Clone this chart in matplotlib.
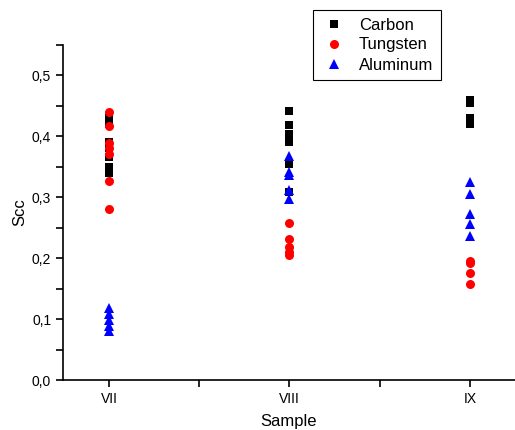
import matplotlib.pyplot as plt
from matplotlib.ticker import FuncFormatter, MultipleLocator, FixedLocator

plt.rcParams['font.family'] = ['Liberation Sans', 'DejaVu Sans']

samples = ["VII", "VIII", "IX"]

# Scc values per sample
carbon = {
    "VII": [0.43, 0.42, 0.39, 0.38, 0.365, 0.35, 0.345, 0.34],
    "VIII": [0.441, 0.418, 0.404, 0.391, 0.354, 0.309],
    "IX": [0.46, 0.454, 0.43, 0.42],
}
tungsten = {
    "VII": [0.44, 0.417, 0.388, 0.38, 0.37, 0.327, 0.28],
    "VIII": [0.258, 0.231, 0.218, 0.21, 0.205],
    "IX": [0.196, 0.192, 0.175, 0.157],
}
aluminum = {
    "VII": [0.118, 0.108, 0.098, 0.088, 0.08],
    "VIII": [0.367, 0.342, 0.336, 0.311, 0.297],
    "IX": [0.324, 0.305, 0.273, 0.256, 0.236],
}

fig = plt.figure(figsize=(5.15, 4.3), dpi=100)
ax = fig.add_axes([63 / 515, 50 / 430, 1 - 63 / 515, 335.3 / 430])

series = [
    ("Carbon", carbon, "s", "black", 6),
    ("Tungsten", tungsten, "o", "red", 6.5),
    ("Aluminum", aluminum, "^", "blue", 7),
]
for name, data, mk, col, ms in series:
    xs, ys = [], []
    for i, s in enumerate(samples):
        xs += [i + 1] * len(data[s])
        ys += data[s]
    ax.plot(xs, ys, linestyle="none", marker=mk, color=col, markersize=ms,
            markeredgewidth=0, label=name)

ax.set_xlim(0.745, 3.25)
ax.set_ylim(0, 0.55)
ax.set_xticks([1, 2, 3])
ax.set_xticklabels(samples)
ax.xaxis.set_minor_locator(FixedLocator([1.5, 2.5]))
ax.yaxis.set_major_locator(MultipleLocator(0.1))
ax.yaxis.set_minor_locator(MultipleLocator(0.05))
ax.yaxis.set_major_formatter(FuncFormatter(lambda v, p: f"{v:.1f}".replace(".", ",")))

ax.spines["top"].set_visible(False)
ax.spines["right"].set_visible(False)
ax.spines["left"].set_linewidth(1.2)
ax.spines["bottom"].set_linewidth(1.2)
ax.tick_params(which="major", direction="out", length=5, width=1.2, labelsize=10)
ax.tick_params(which="minor", direction="out", length=5, width=1.2)

ax.set_xlabel("Sample", fontsize=12, labelpad=6)
ax.set_ylabel("Scc", fontsize=12, labelpad=3)

leg = ax.legend(loc="upper left", bbox_to_anchor=(313 / 515, 1 - 10 / 430),
                bbox_transform=fig.transFigure, borderaxespad=0,
                fancybox=False, framealpha=1, edgecolor="black", fontsize=12,
                handletextpad=0.7, borderpad=0.45, labelspacing=0.3,
                handlelength=1.6)
leg.get_frame().set_linewidth(0.8)

fig.savefig("out.png", dpi=100)
